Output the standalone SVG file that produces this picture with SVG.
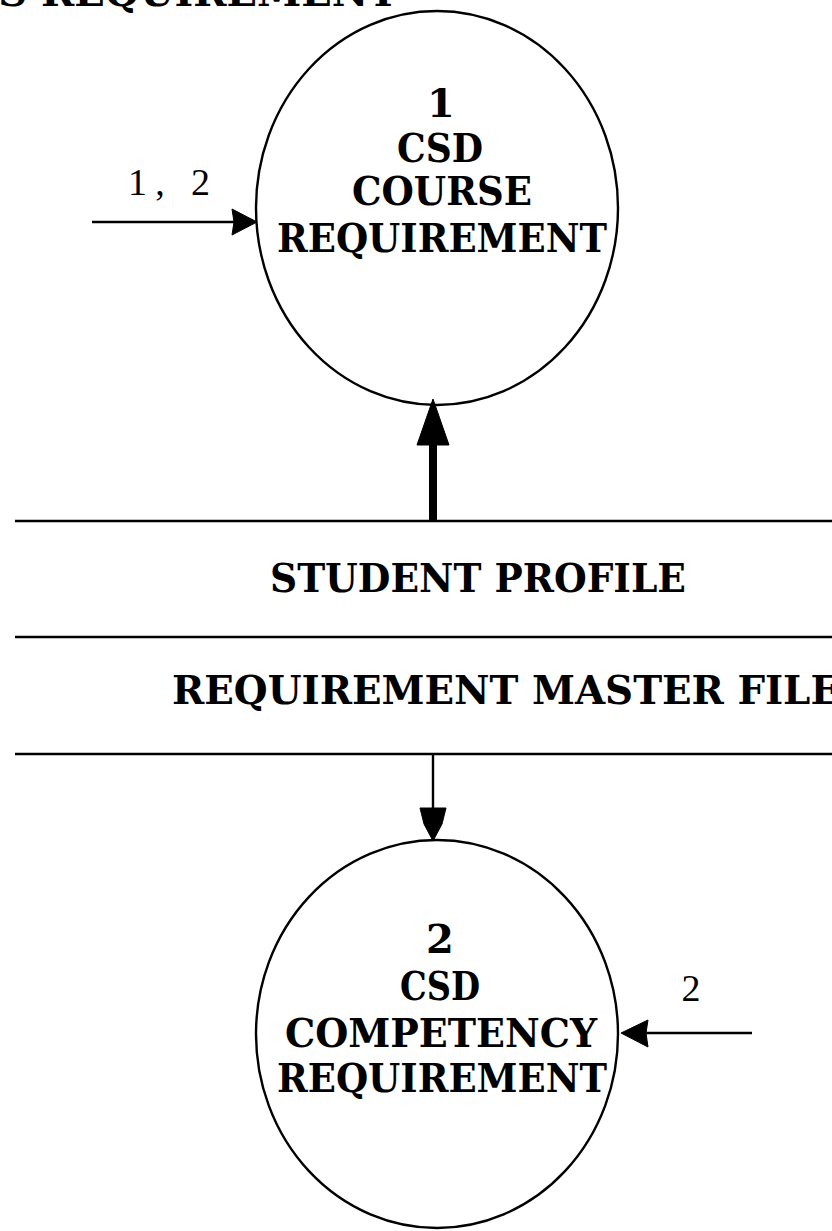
<svg xmlns="http://www.w3.org/2000/svg" width="832" height="1231" viewBox="0 0 832 1231">
<style>
.bg{fill:#ffffff}
.bubble{fill:none;stroke:#000;stroke-width:2.4}
.store{stroke:#000;stroke-width:2.6}
.flow{stroke:#000;stroke-width:2.4;fill:none}
.head{fill:#000;stroke:#000;stroke-width:1}
.pt{font-family:"DejaVu Serif","Liberation Serif",serif;font-weight:bold;font-size:40px;fill:#000;text-anchor:middle}
.st{font-family:"DejaVu Serif","Liberation Serif",serif;font-weight:bold;font-size:40px;fill:#000}
.lbl{font-family:"Liberation Serif","DejaVu Serif",serif;font-size:38px;fill:#000}
</style>
<rect class="bg" x="0" y="0" width="832" height="1231"/>
<text class="st" x="398" y="6" text-anchor="end">S REQUIREMENT</text>

<g id="node-process-1">
<ellipse class="bubble" cx="437" cy="208" rx="181" ry="197"/>
<text class="pt" x="441" y="117">1</text>
<text class="pt" x="440" y="162" textLength="86" lengthAdjust="spacingAndGlyphs">CSD</text>
<text class="pt" x="442" y="205" textLength="180" lengthAdjust="spacingAndGlyphs">COURSE</text>
<text class="pt" x="442" y="252" textLength="330" lengthAdjust="spacingAndGlyphs">REQUIREMENT</text>
</g>

<g id="node-process-2">
<ellipse class="bubble" cx="437" cy="1034" rx="181" ry="194"/>
<text class="pt" x="440" y="953">2</text>
<text class="pt" x="440" y="1000" textLength="80" lengthAdjust="spacingAndGlyphs">CSD</text>
<text class="pt" x="441" y="1047" textLength="312" lengthAdjust="spacingAndGlyphs">COMPETENCY</text>
<text class="pt" x="442" y="1092" textLength="330" lengthAdjust="spacingAndGlyphs">REQUIREMENT</text>
</g>

<g id="store-student-profile">
<line class="store" x1="15" y1="521" x2="832" y2="521"/>
<text class="st" x="270" y="592" textLength="416" lengthAdjust="spacingAndGlyphs">STUDENT PROFILE</text>
<line class="store" x1="15" y1="637" x2="832" y2="637"/>
</g>

<g id="store-requirement-master-file">
<text class="st" x="172" y="704" textLength="668" lengthAdjust="spacingAndGlyphs">REQUIREMENT MASTER FILE</text>
<line class="store" x1="15" y1="754" x2="832" y2="754"/>
</g>

<g id="connectors">
<line class="flow" x1="92" y1="222" x2="236" y2="222"/>
<polygon class="head" points="257,222 232,209 234,222 232,235"/>
<text class="lbl" x="128" y="195" textLength="82" lengthAdjust="spacing">1, 2</text>

<line x1="433" y1="521" x2="433" y2="440" stroke="#000" stroke-width="8"/>
<polygon class="head" points="433,399 417,445 449,445"/>

<line class="flow" x1="433" y1="754" x2="433" y2="812"/>
<polygon class="head" points="420,808 446,808 442,824 433,841 424,824"/>

<line class="flow" x1="752" y1="1033" x2="644" y2="1033"/>
<polygon class="head" points="621,1033 648,1020 646,1033 648,1047"/>
<text class="lbl" x="691" y="1001" text-anchor="middle">2</text>
</g>
</svg>
